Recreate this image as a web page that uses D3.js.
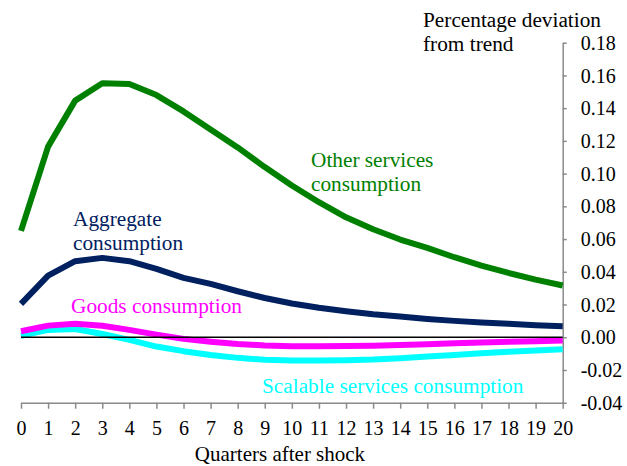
<!DOCTYPE html>
<html>
<head>
<meta charset="utf-8">
<script src="https://cdn.jsdelivr.net/npm/d3@7"></script>
<style>
  html, body { margin: 0; padding: 0; background: #fff; }
  svg { display: block; }
</style>
</head>
<body>
<svg id="chart" width="627" height="466"></svg>
<script>
// Impulse responses, quarters 0..20 after the shock (percentage deviation from trend)
const quarters = d3.range(0, 21);

const otherServices = [0.065, 0.1165, 0.1446, 0.1552, 0.1548, 0.148, 0.138, 0.127, 0.116, 0.104,
  0.0927, 0.0825, 0.0733, 0.066, 0.0597, 0.0546, 0.0489, 0.0438, 0.0393, 0.0352, 0.0316];
const aggregate = [0.0204, 0.0377, 0.0465, 0.0485, 0.0465, 0.0418, 0.0363, 0.0326, 0.0281, 0.024,
  0.0206, 0.018, 0.0159, 0.0141, 0.0127, 0.0112, 0.010, 0.009, 0.0082, 0.0073, 0.0067];
const goods = [0.0037, 0.0071, 0.0082, 0.007, 0.0045, 0.0016, -0.001, -0.0027, -0.0041, -0.005,
  -0.0055, -0.0055, -0.0053, -0.0052, -0.0048, -0.0043, -0.0037, -0.0032, -0.0028, -0.0024, -0.002];
const scalableServices = [0.0008, 0.0045, 0.005, 0.002, -0.0016, -0.0057, -0.0085, -0.0108, -0.0126, -0.0138,
  -0.0142, -0.0142, -0.014, -0.0136, -0.0128, -0.0118, -0.0108, -0.0098, -0.0089, -0.0081, -0.0073];

const yTicks = [-0.04, -0.02, 0.00, 0.02, 0.04, 0.06, 0.08, 0.10, 0.12, 0.14, 0.16, 0.18];

const series = [
  { name: "Scalable services consumption", values: scalableServices, color: "#00FFFF" },
  { name: "Goods consumption", values: goods, color: "#FF00FF" },
  { name: "Aggregate consumption", values: aggregate, color: "#002060" },
  { name: "Other services consumption", values: otherServices, color: "#008000" }
];

const FONT = "'Liberation Serif', 'Times New Roman', serif";
const svg = d3.select("#chart");
const x = d3.scaleLinear().domain([0, 20]).range([21, 562.7]);
const y = d3.scaleLinear().domain([-0.04, 0.18]).range([402.7, 42.7]);
const axisColor = "#8a8a8a";

// X axis along the bottom
const gx = svg.append("g")
  .attr("transform", `translate(0,${y(-0.04)})`)
  .call(d3.axisBottom(x).tickValues(quarters).tickSize(6).tickSizeOuter(0).tickFormat(d3.format("d")));
gx.attr("font-family", FONT).attr("font-size", 20);
gx.select(".domain").attr("stroke", axisColor).attr("stroke-width", 1.5);
gx.selectAll(".tick line").attr("stroke", axisColor).attr("stroke-width", 1.5);
gx.selectAll(".tick text")
  .attr("y", 32).attr("dy", 0)
  .attr("fill", "#000");

// Y axis on the right
const gy = svg.append("g")
  .attr("transform", `translate(${x(20)},0)`)
  .call(d3.axisRight(y).tickValues(yTicks).tickSize(4).tickSizeOuter(0).tickPadding(14)
    .tickFormat(d => d.toFixed(2)));
gy.attr("font-family", FONT).attr("font-size", 20);
gy.select(".domain").attr("stroke", axisColor).attr("stroke-width", 1.5);
gy.selectAll(".tick line").attr("stroke", axisColor).attr("stroke-width", 1.5);
gy.selectAll(".tick text")
  .attr("dy", "0.33em")
  .attr("fill", "#000");

// Response lines
const line = d3.line()
  .x((d, i) => x(quarters[i]))
  .y(d => y(d));

svg.append("g").selectAll("path")
  .data(series)
  .join("path")
  .attr("d", d => line(d.values))
  .attr("fill", "none")
  .attr("stroke", d => d.color)
  .attr("stroke-width", 6)
  .attr("stroke-linejoin", "round");

// Zero reference line
svg.append("line")
  .attr("x1", x(0)).attr("x2", x(20))
  .attr("y1", y(0)).attr("y2", y(0))
  .attr("stroke", "#000").attr("stroke-width", 1.5);

// Series labels
const labels = [
  { lines: ["Other services", "consumption"], x: 311, y: 167, color: "#008000" },
  { lines: ["Aggregate", "consumption"], x: 73, y: 226, color: "#002060" },
  { lines: ["Goods consumption"], x: 71, y: 313, color: "#FF00FF" },
  { lines: ["Scalable services consumption"], x: 262, y: 393, color: "#00FFFF" },
  { lines: ["Percentage deviation", "from trend"], x: 423, y: 27, color: "#000" }
];

labels.forEach(l => {
  const t = svg.append("text")
    .attr("x", l.x).attr("y", l.y)
    .attr("fill", l.color)
    .attr("font-family", FONT)
    .attr("font-size", 21.3);
  l.lines.forEach((s, i) => {
    t.append("tspan").attr("x", l.x).attr("dy", i === 0 ? 0 : 24).text(s);
  });
});

// X axis title
svg.append("text")
  .attr("x", 280).attr("y", 461)
  .attr("text-anchor", "middle")
  .attr("fill", "#000")
  .attr("font-family", FONT)
  .attr("font-size", 21)
  .text("Quarters after shock");
</script>
</body>
</html>
